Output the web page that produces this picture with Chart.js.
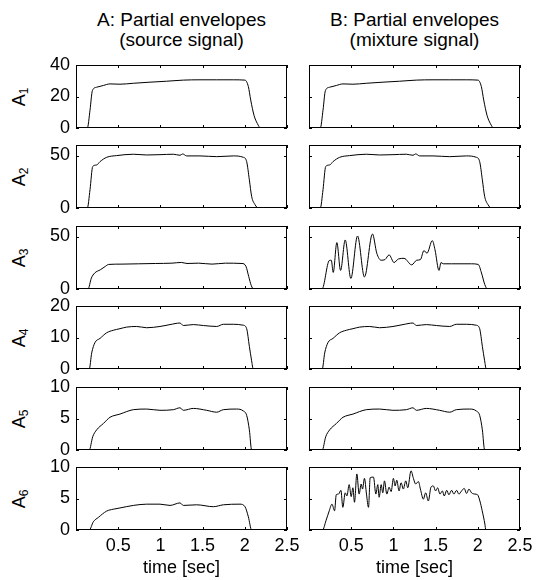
<!DOCTYPE html>
<html>
<head>
<meta charset="utf-8">
<script src="https://cdn.jsdelivr.net/npm/chart.js@4/dist/chart.umd.min.js"></script>
<style>
  html, body { margin: 0; padding: 0; background: #fff; }
  body { width: 539px; height: 580px; position: relative; overflow: hidden;
         font-family: 'Liberation Sans', Arial, sans-serif; color: #000; }
  canvas { position: absolute; }
  .title { position: absolute; top: 10px; width: 240px; text-align: center;
           font-size: 19px; line-height: 19.5px; white-space: nowrap; }
  .ylab { position: absolute; font-size: 18px; line-height: 18px; white-space: nowrap;
          transform: translate(-50%, -50%) rotate(-90deg); }
  .ylab span { font-size: 12px; position: relative; top: 3px; }
</style>
</head>
<body>
<script>
// ---- envelope data (time in seconds, amplitude) ----
const timeA1 = [0, 0.134, 0.166, 0.194, 0.245, 0.324, 0.403, 0.521, 0.679, 0.877, 1.074, 1.272, 1.469, 1.667, 1.864, 2.002, 2.042, 2.07, 2.109, 2.149, 2.188, 2.5];
const envA1  = [0, 0, 11.3, 23.7, 25.9, 27, 28, 27.8, 28.4, 29.1, 29.7, 30.4, 30.6, 30.6, 30.6, 30.4, 26.3, 17.8, 8.1, 2.8, 0, 0];

const timeA2 = [0, 0.134, 0.166, 0.198, 0.245, 0.285, 0.364, 0.482, 0.679, 0.837, 0.995, 1.153, 1.232, 1.264, 1.311, 1.469, 1.667, 1.864, 1.982, 2.022, 2.054, 2.081, 2.121, 2.16, 2.5];
const envA2  = [0, 0, 17.4, 39.5, 41, 44.2, 48.3, 49.9, 51.2, 50.5, 50.8, 51.2, 50.2, 51.5, 49.6, 49.6, 48.9, 49.6, 48.3, 44.2, 26.8, 11.1, 3.2, 0, 0];

const timeA3 = [0, 0.142, 0.182, 0.221, 0.288, 0.347, 0.387, 0.545, 0.742, 0.94, 1.137, 1.248, 1.315, 1.453, 1.611, 1.77, 1.967, 2.014, 2.046, 2.077, 2.105, 2.5];
const envA3  = [0, 0, 10.4, 15.2, 18.3, 21.5, 23.4, 23.7, 24, 24.3, 24.6, 25.3, 24.3, 24.6, 23.7, 24.6, 24.3, 21.5, 12, 3.2, 0, 0];

const timeB3 = [0, 0.154, 0.24, 0.264, 0.287, 0.33, 0.374, 0.429, 0.496, 0.575, 0.657, 0.752, 0.803, 0.855, 0.9, 0.949, 1.008, 1.059, 1.126, 1.217, 1.276, 1.32, 1.362, 1.398, 1.461, 1.493, 1.54, 1.564, 1.59, 1.69, 1.926, 2.005, 2.044, 2.083, 2.115, 2.5];
const envB3  = [0, 0, 27.1, 27.4, 15.8, 44.2, 17.7, 46.7, 10.1, 50.5, 11.4, 52.4, 34.1, 27.4, 28, 32.5, 25.2, 28.6, 29.2, 23, 27.4, 28, 36.6, 34.1, 46.1, 37.3, 17.7, 25.2, 24, 24, 24, 23.4, 15.2, 4.2, 0, 0];

const timeA4 = [0, 0.157, 0.186, 0.225, 0.284, 0.363, 0.442, 0.521, 0.6, 0.719, 0.837, 0.995, 1.114, 1.232, 1.272, 1.39, 1.509, 1.667, 1.746, 1.864, 1.982, 2.022, 2.054, 2.081, 2.1, 2.5];
const envA4  = [0, 0, 5.1, 8.4, 9.7, 11.5, 12.3, 12.8, 13.3, 13.5, 13.1, 13.5, 14.1, 14.6, 13.8, 14.1, 13.8, 13.5, 14.2, 14.2, 13.9, 12.8, 7.2, 2.6, 0, 0];

const timeA5 = [0, 0.157, 0.198, 0.245, 0.324, 0.403, 0.462, 0.521, 0.6, 0.679, 0.837, 0.995, 1.153, 1.232, 1.272, 1.39, 1.548, 1.667, 1.746, 1.904, 1.982, 2.022, 2.054, 2.081, 2.5];
const envA5  = [0, 0, 2.1, 3.2, 4.2, 5.2, 5.5, 5.7, 6.1, 6.4, 6.5, 6.3, 6.4, 6.7, 6.3, 6.6, 6.3, 6.0, 6.4, 6.5, 6.2, 5.5, 3.2, 0, 0];

const timeA6 = [0, 0.157, 0.205, 0.265, 0.363, 0.442, 0.521, 0.679, 0.837, 0.995, 1.114, 1.232, 1.272, 1.43, 1.627, 1.746, 1.943, 2.002, 2.042, 2.081, 2.5];
const envA6  = [0, 0, 1.3, 2.0, 3.0, 3.3, 3.5, 3.9, 4.1, 4.1, 3.9, 4.3, 3.9, 4.0, 3.7, 4.0, 4.1, 3.7, 2.1, 0, 0];

const timeB6 = [0, 0.161, 0.201, 0.24, 0.272, 0.303, 0.323, 0.35, 0.378, 0.401, 0.429, 0.449, 0.476, 0.5, 0.52, 0.539, 0.567, 0.594, 0.618, 0.634, 0.657, 0.681, 0.705, 0.725, 0.764, 0.792, 0.815, 0.831, 0.855, 0.874, 0.894, 0.922, 0.949, 0.973, 1.0, 1.02, 1.04, 1.067, 1.091, 1.118, 1.146, 1.17, 1.209, 1.237, 1.264, 1.296, 1.32, 1.355, 1.382, 1.414, 1.445, 1.473, 1.5, 1.524, 1.552, 1.58, 1.603, 1.631, 1.658, 1.69, 1.717, 1.749, 1.776, 1.808, 1.839, 1.867, 1.895, 1.926, 1.966, 1.997, 2.025, 2.052, 2.084, 2.095, 2.5];
const envB6  = [0, 0, 1.47, 3.05, 4.1, 3.05, 5.6, 5.7, 6.3, 3.6, 5.9, 5.4, 7.2, 5.3, 6.7, 4.4, 8.9, 5.7, 7.3, 6.5, 8.2, 5.7, 3.6, 8.3, 8.4, 5.7, 7.2, 5.2, 7.2, 5.9, 7.8, 5.7, 6.8, 6.1, 8.2, 7.0, 7.9, 6.2, 7.5, 6.5, 7.8, 6.7, 9.4, 8.2, 7.3, 7.7, 6.5, 4.9, 5.9, 4.6, 6.8, 7.0, 6.2, 6.7, 5.7, 6.2, 5.4, 6.3, 5.6, 6.3, 5.7, 6.3, 5.7, 6.2, 6.6, 5.8, 6.5, 5.9, 5.7, 5.6, 4.6, 3.05, 0.95, 0, 0];

// ---- axes ----
const xTickValues = [0, 0.5, 1, 1.5, 2, 2.5];
const xTickLabels = ['', '0.5', '1', '1.5', '2', '2.5'];
const yMaxes      = [40, 60, 60, 20, 10, 10];
const yTickSets   = [[0, 20, 40], [0, 50], [0, 50], [0, 10, 20], [0, 5, 10], [0, 5, 10]];
const rowSubscripts = ['1', '2', '3', '4', '5', '6'];
const columnTitles  = [['A: Partial envelopes', '(source signal)'], ['B: Partial envelopes', '(mixture signal)']];
const xAxisTitle    = 'time [sec]';

// panels per column: [time, envelope]
const sourceColumn  = [[timeA1, envA1], [timeA2, envA2], [timeA3, envA3], [timeA4, envA4], [timeA5, envA5], [timeA6, envA6]];
const mixtureColumn = [[timeA1, envA1], [timeA2, envA2], [timeB3, envB3], [timeA4, envA4], [timeA5, envA5], [timeB6, envB6]];

// ---- layout ----
const PLOT_LEFT = [76, 309];
const AXIS_W    = [60, 7];          // left column carries the y tick labels
const PLOT_TOP  = [65, 145, 226, 306, 387, 467];
const PLOT_W = 211, PLOT_H = 63;
const PAD_T = 18, PAD_R = 20;       // room for tick-label overhang so the box keeps its size
const X_AXIS_H = 18, X_AXIS_H_LAST = 50;
const TICK_LEN = 3;

Chart.defaults.font.family = "'Liberation Sans', Arial, sans-serif";
Chart.defaults.font.size = 18;
Chart.defaults.font.lineHeight = 1.2;
Chart.defaults.color = '#000';

// box frame with inward tick marks on all four sides
const frameTicks = {
  id: 'frameTicks',
  afterDatasetsDraw(chart) {
    const { ctx, chartArea: a, scales: { x, y } } = chart;
    ctx.save();
    ctx.strokeStyle = '#000';
    ctx.lineWidth = 1;
    ctx.beginPath();
    x.ticks.forEach(t => {
      const px = Math.round(x.getPixelForValue(t.value)) + 0.5;
      ctx.moveTo(px, a.top); ctx.lineTo(px, a.top + TICK_LEN);
      ctx.moveTo(px, a.bottom); ctx.lineTo(px, a.bottom - TICK_LEN);
    });
    y.ticks.forEach(t => {
      const py = Math.round(y.getPixelForValue(t.value)) + 0.5;
      ctx.moveTo(a.left, py); ctx.lineTo(a.left + TICK_LEN, py);
      ctx.moveTo(a.right, py); ctx.lineTo(a.right - TICK_LEN, py);
    });
    ctx.stroke();
    ctx.strokeRect(a.left + 0.5, a.top + 0.5, a.right - a.left - 1, a.bottom - a.top - 1);
    ctx.restore();
  }
};

function makePanel(col, row, series) {
  const isLast = row === PLOT_TOP.length - 1;
  const xh = isLast ? X_AXIS_H_LAST : X_AXIS_H;
  const aw = AXIS_W[col];
  const canvas = document.createElement('canvas');
  const w = aw + PLOT_W + PAD_R, h = PAD_T + PLOT_H + xh;
  canvas.width = w; canvas.height = h;
  canvas.style.width = w + 'px'; canvas.style.height = h + 'px';
  canvas.style.left = (PLOT_LEFT[col] - aw) + 'px';
  canvas.style.top = (PLOT_TOP[row] - PAD_T) + 'px';
  document.body.appendChild(canvas);

  const [t, v] = series;
  new Chart(canvas, {
    type: 'line',
    data: {
      datasets: [{
        data: t.map((x, i) => ({ x, y: v[i] })),
        borderColor: '#000',
        borderWidth: 1,
        pointRadius: 0,
        fill: false,
        cubicInterpolationMode: 'monotone'
      }]
    },
    options: {
      responsive: false,
      animation: false,
      devicePixelRatio: 1,
      events: [],
      layout: { padding: { top: PAD_T, right: PAD_R, left: 0, bottom: 0 } },
      plugins: { legend: { display: false }, tooltip: { enabled: false } },
      scales: {
        x: {
          type: 'linear', position: 'bottom', min: 0, max: 2.5,
          afterBuildTicks: s => { s.ticks = xTickValues.map(value => ({ value })); },
          afterFit: s => { s.height = xh; },
          grid: { display: false, drawTicks: false },
          border: { display: false },
          ticks: {
            display: isLast, padding: 5, autoSkip: false, maxRotation: 0,
            callback: value => xTickLabels[xTickValues.indexOf(value)] ?? ''
          },
          title: { display: isLast, text: xAxisTitle, padding: { top: 0, bottom: 1 } }
        },
        y: {
          type: 'linear', position: 'left', min: 0, max: yMaxes[row],
          afterBuildTicks: s => { s.ticks = yTickSets[row].map(value => ({ value })); },
          afterFit: s => { s.width = aw; },
          grid: { display: false, drawTicks: false },
          border: { display: false },
          ticks: { display: col === 0, padding: 6, callback: value => String(value) }
        }
      }
    },
    plugins: [frameTicks]
  });
}

// column titles
columnTitles.forEach((lines, col) => {
  const d = document.createElement('div');
  d.className = 'title';
  d.style.left = (PLOT_LEFT[col] + PLOT_W / 2 - 120) + 'px';
  d.innerHTML = lines.join('<br>');
  document.body.appendChild(d);
});

// rotated row labels A with subscript
rowSubscripts.forEach((sub, row) => {
  const d = document.createElement('div');
  d.className = 'ylab';
  d.style.left = '19.5px';
  d.style.top = (PLOT_TOP[row] + PLOT_H / 2) + 'px';
  d.append('A');
  const s = document.createElement('span');
  s.textContent = sub;
  d.appendChild(s);
  document.body.appendChild(d);
});

sourceColumn.forEach((series, row) => makePanel(0, row, series));
mixtureColumn.forEach((series, row) => makePanel(1, row, series));
</script>
</body>
</html>
